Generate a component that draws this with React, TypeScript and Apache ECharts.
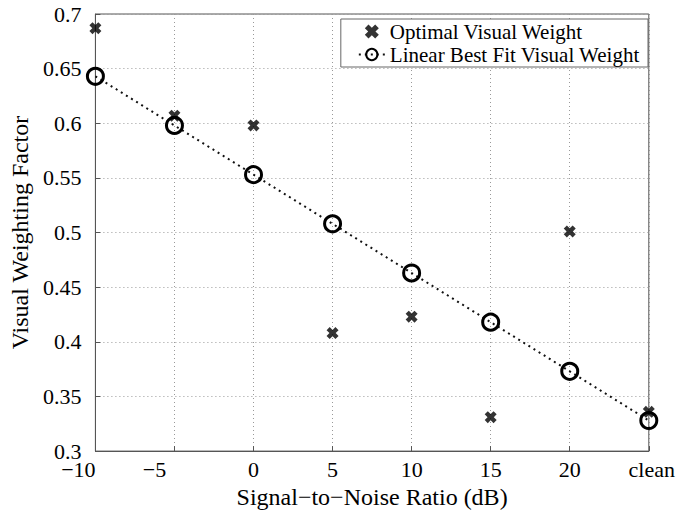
import React, { useEffect, useRef } from "react";
import * as echarts from "echarts";

const xTickLabels = ["−10", "−5", "0", "5", "10", "15", "20", "clean"];
const xPositions = [0, 1, 2, 3, 4, 5, 6, 7];
const optimalWeights = [0.687, 0.607, 0.598, 0.408, 0.423, 0.331, 0.501, 0.336];
const linearFitWeights = [0.643, 0.598, 0.553, 0.508, 0.463, 0.418, 0.373, 0.328];

const FONT = "Liberation Serif";
const CROSS =
  "path://M0,2.6 L2.6,0 L5,2.4 L7.4,0 L10,2.6 L7.6,5 L10,7.4 L7.4,10 L5,7.6 L2.6,10 L0,7.4 L2.4,5 Z";

export default function App() {
  const ref = useRef<HTMLDivElement>(null);
  useEffect(() => {
    if (!ref.current) return;
    const chart = echarts.init(ref.current, undefined, { renderer: "svg" });
    const labelStyle: Record<string, string> = {
      "−10": "l10",
      "−5": "l5",
      clean: "lc",
    };
    const tick = { fontFamily: FONT, fontSize: 22, color: "#000" };
    chart.setOption({
      animation: false,
      backgroundColor: "#fff",
      textStyle: { fontFamily: FONT },
      grid: {
        left: 91,
        right: 24,
        top: 14,
        bottom: 56,
        show: true,
        borderColor: "#555",
        borderWidth: 1,
      },
      legend: {
        right: 30,
        top: 19,
        orient: "vertical",
        backgroundColor: "#fff",
        borderColor: "#666",
        borderWidth: 1,
        borderRadius: 0,
        padding: [2, 8, 2, 17],
        itemGap: 2,
        itemWidth: 26,
        itemHeight: 14,
        textStyle: { fontFamily: FONT, fontSize: 21, color: "#000" },
        data: ["Optimal Visual Weight", "Linear Best Fit Visual Weight"],
      },
      xAxis: {
        type: "value",
        min: 0,
        max: 7,
        interval: 1,
        name: "Signal−to−Noise Ratio (dB)",
        nameLocation: "middle",
        nameGap: 27,
        nameTextStyle: { fontFamily: FONT, fontSize: 24, color: "#000" },
        axisLine: { show: true, lineStyle: { color: "#555" } },
        axisTick: { show: true, inside: true, length: 5, lineStyle: { color: "#555" } },
        axisLabel: {
          margin: 7,
          ...tick,
          formatter: (v: number) => {
            const t = xTickLabels[Math.round(v)] ?? "";
            const s = labelStyle[t];
            return s ? `{${s}|${t}}` : t;
          },
          rich: {
            l10: { ...tick, padding: [0, 34, 0, 0] },
            l5: { ...tick, padding: [0, 40, 0, 0] },
            lc: { ...tick, padding: [0, 0, 0, 6] },
          },
        },
        splitLine: { show: true, lineStyle: { color: "#999", type: [1, 3] } },
      },
      yAxis: {
        type: "value",
        min: 0.3,
        max: 0.7,
        interval: 0.05,
        name: "Visual Weighting Factor",
        nameLocation: "middle",
        nameGap: 58,
        nameTextStyle: { fontFamily: FONT, fontSize: 24, color: "#000" },
        axisLine: { show: true, lineStyle: { color: "#555" } },
        axisTick: { show: true, inside: true, length: 5, lineStyle: { color: "#555" } },
        axisLabel: {
          margin: 14,
          ...tick,
          formatter: (v: number) => String(Math.round(v * 100) / 100),
        },
        splitLine: { show: true, lineStyle: { color: "#999", type: [1, 3] } },
      },
      series: [
        {
          name: "Optimal Visual Weight",
          type: "scatter",
          symbol: CROSS,
          symbolSize: 12,
          itemStyle: { color: "#000" },
          data: xPositions.map((x, i) => [x, optimalWeights[i]]),
          z: 5,
        },
        {
          name: "Linear Best Fit Visual Weight",
          type: "line",
          symbol: "circle",
          symbolSize: 16,
          showSymbol: true,
          itemStyle: { color: "rgba(0,0,0,0)", borderColor: "#000", borderWidth: 3 },
          lineStyle: { color: "#111", width: 2, type: [2, 4] },
          data: xPositions.map((x, i) => [x, linearFitWeights[i]]),
          z: 4,
        },
      ],
    });
    return () => chart.dispose();
  }, []);
  return (
    <div
      ref={ref}
      style={{ position: "absolute", left: 0, top: 0, width: 678, height: 514 }}
    />
  );
}
